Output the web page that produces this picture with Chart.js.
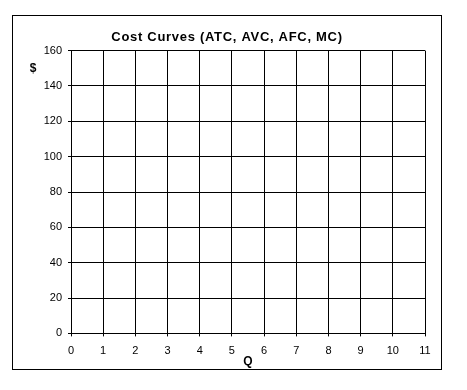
<!DOCTYPE html>
<html lang="en">
<head>
    <meta charset="UTF-8">
    <title>Cost Curves</title>
    <script src="https://cdn.jsdelivr.net/npm/chart.js"></script>
    <style>
        body {
            margin: 0;
            background: #ffffff;
        }
        #frame {
            position: absolute;
            left: 12px;
            top: 15px;
            width: 430px;
            height: 355px;
            box-sizing: border-box;
            border: 1px solid #000000;
        }
        #costChart {
            display: block;
        }
    </style>
</head>
<body>
    <div id="frame">
        <canvas id="costChart" width="428" height="353"></canvas>
    </div>
    <script>
        // the reference is a blank worksheet: axes and grid only, no curves plotted yet
        const quantity = [];
        const atc = [];
        const avc = [];
        const afc = [];
        const mc = [];
        const xRange = [0, 11];
        const yRange = [0, 160];
        const chartTitle = 'Cost Curves (ATC, AVC, AFC, MC)';

        const font = "'Liberation Sans', Arial, sans-serif";

        // title drawn by hand so it can get the wide letter spacing of the original,
        // and the "$" sits beside the top of the y axis, not rotated
        const extraText = {
            id: 'extraText',
            afterDraw(chart) {
                const { ctx, chartArea } = chart;
                const tb = chart.titleBlock;
                ctx.save();
                ctx.fillStyle = '#000';
                ctx.textAlign = 'center';
                ctx.textBaseline = 'middle';
                ctx.font = 'bold 13px ' + font;
                ctx.letterSpacing = '0.7px';
                ctx.fillText(chartTitle, chart.width / 2, tb.top + 14 + 7.8);
                ctx.letterSpacing = '0px';
                ctx.font = 'bold 12px ' + font;
                ctx.fillText('$', chartArea.left - 38, chartArea.top + 18);
                ctx.restore();
            }
        };

        const toPoints = arr => arr.map((y, i) => ({ x: quantity[i], y: y }));

        new Chart(document.getElementById('costChart').getContext('2d'), {
            type: 'scatter',
            data: {
                datasets: [
                    { label: 'ATC', data: toPoints(atc), showLine: true, borderColor: '#000', pointRadius: 0 },
                    { label: 'AVC', data: toPoints(avc), showLine: true, borderColor: '#000', pointRadius: 0 },
                    { label: 'AFC', data: toPoints(afc), showLine: true, borderColor: '#000', pointRadius: 0 },
                    { label: 'MC', data: toPoints(mc), showLine: true, borderColor: '#000', pointRadius: 0 }
                ]
            },
            options: {
                responsive: false,
                animation: false,
                layout: { padding: { left: 0, right: 16, top: 0, bottom: 0 } },
                plugins: {
                    legend: { display: false },
                    tooltip: { enabled: false },
                    title: {
                        display: true,
                        text: chartTitle,
                        color: 'rgba(0,0,0,0)',
                        font: { family: font, size: 13, weight: 'bold' },
                        padding: { top: 14, bottom: 5 }
                    }
                },
                scales: {
                    x: {
                        type: 'linear',
                        min: xRange[0],
                        max: xRange[1],
                        ticks: { stepSize: 1, color: '#000', padding: 8, font: { family: font, size: 11 } },
                        grid: { color: '#000', lineWidth: 1, tickLength: 3, tickColor: '#000' },
                        border: { color: '#000' },
                        title: {
                            display: true,
                            text: 'Q',
                            color: '#000',
                            font: { family: font, size: 12, weight: 'bold' },
                            padding: { top: -11, bottom: 0 }
                        }
                    },
                    y: {
                        min: yRange[0],
                        max: yRange[1],
                        ticks: { stepSize: 20, color: '#000', padding: 6, font: { family: font, size: 11 } },
                        grid: { color: '#000', lineWidth: 1, tickLength: 3, tickColor: '#000' },
                        border: { color: '#000' },
                        afterFit(scale) { scale.width = 58; }
                    }
                }
            },
            plugins: [extraText]
        });
    </script>
</body>
</html>
